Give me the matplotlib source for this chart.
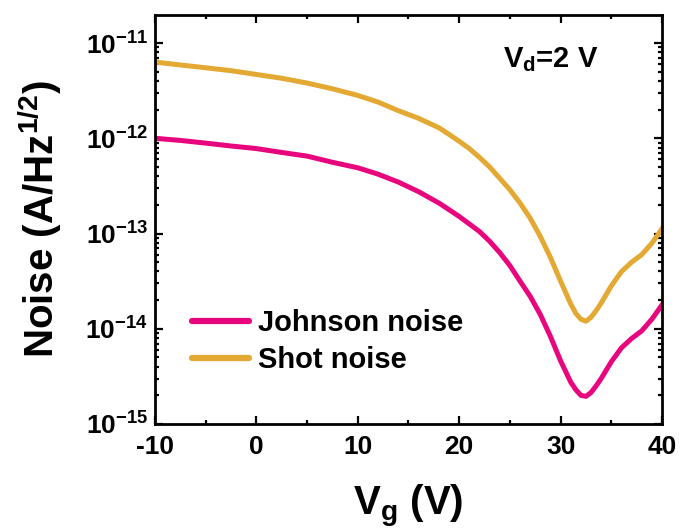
import numpy as np
import matplotlib
matplotlib.use('Agg')
import matplotlib.pyplot as plt
from matplotlib.ticker import FixedLocator, MultipleLocator, LogLocator, FuncFormatter, NullFormatter

# Data.
vg = [-10, -7.5, -5, -2.5, 0, 2.5, 5, 7.5, 10, 12, 14, 16, 18, 19, 20, 21, 22, 23, 24,
      25, 26, 27, 28, 29, 30, 31, 31.5, 32, 32.5, 33, 33.5, 34, 35, 36, 37, 38, 39, 40]
shot_noise = [6.31e-12, 5.89e-12, 5.50e-12, 5.13e-12, 4.68e-12, 4.27e-12, 3.80e-12,
              3.31e-12, 2.82e-12, 2.40e-12, 1.95e-12, 1.62e-12, 1.29e-12, 1.10e-12,
              9.3e-13, 7.8e-13, 6.3e-13, 5.0e-13, 3.8e-13, 2.88e-13, 2.09e-13, 1.45e-13,
              9.3e-14, 5.6e-14, 3.16e-14, 1.82e-14, 1.45e-14, 1.26e-14, 1.20e-14,
              1.32e-14, 1.55e-14, 1.86e-14, 2.82e-14, 3.98e-14, 5.0e-14, 6.0e-14,
              7.9e-14, 1.12e-13]
johnson_noise = [1.00e-12, 9.5e-13, 8.9e-13, 8.3e-13, 7.8e-13, 7.1e-13, 6.5e-13, 5.6e-13,
                 4.9e-13, 4.2e-13, 3.47e-13, 2.75e-13, 2.09e-13, 1.78e-13, 1.51e-13,
                 1.26e-13, 1.05e-13, 8.3e-14, 6.3e-14, 4.6e-14, 3.16e-14, 2.19e-14,
                 1.41e-14, 8.3e-15, 4.6e-15, 2.75e-15, 2.29e-15, 2.0e-15, 1.95e-15,
                 2.14e-15, 2.51e-15, 3.0e-15, 4.5e-15, 6.3e-15, 7.9e-15, 9.5e-15,
                 1.26e-14, 1.78e-14]
x_ticks = [-10, 0, 10, 20, 30, 40]
y_ticks = [1e-15, 1e-14, 1e-13, 1e-12, 1e-11]

# Bold Arial-like text everywhere, mathtext included.
plt.rcParams['font.family'] = ['Liberation Sans', 'DejaVu Sans']
plt.rcParams['font.weight'] = 'bold'
plt.rcParams['axes.labelweight'] = 'bold'
plt.rcParams['mathtext.fontset'] = 'custom'
plt.rcParams['mathtext.rm'] = 'Liberation Sans:bold'
plt.rcParams['mathtext.it'] = 'Liberation Sans:bold'
plt.rcParams['mathtext.bf'] = 'Liberation Sans:bold'
plt.rcParams['mathtext.default'] = 'regular'
plt.rcParams['axes.unicode_minus'] = False

fig = plt.figure(figsize=(6.81, 5.29), dpi=100)
ax = fig.add_axes([0.2276, 0.1985, 0.9721 - 0.2276, 0.9716 - 0.1985])

ax.plot(vg, johnson_noise, '-', color='#E8067F', linewidth=3.6, solid_joinstyle='round',
        label='Johnson noise')
ax.plot(vg, shot_noise, '-', color='#E3A932', linewidth=3.6, solid_joinstyle='round',
        label='Shot noise')

ax.set_yscale('log')
ax.set_xlim(-10, 40)
ax.set_ylim(1e-15, 1.97e-11)

# Ticks
ax.xaxis.set_major_locator(FixedLocator(x_ticks))
ax.xaxis.set_minor_locator(MultipleLocator(5))
ax.yaxis.set_major_locator(FixedLocator(y_ticks))
ax.yaxis.set_minor_locator(LogLocator(base=10, subs=np.arange(2, 10), numticks=10))
ax.yaxis.set_minor_formatter(NullFormatter())
ax.yaxis.set_major_formatter(FuncFormatter(lambda v, p: r'$10^{%d}$' % int(round(np.log10(v)))))
ax.tick_params(which='both', direction='in', top=True, right=True, width=1.6)
ax.tick_params(which='major', length=6, labelsize=19)
ax.tick_params(axis='x', which='major', pad=8)
ax.tick_params(axis='y', which='major', pad=5)
ax.tick_params(which='minor', length=3)
for s in ax.spines.values():
    s.set_linewidth(2.0)

ax.set_xlabel(r'V$_{g}$ (V)', fontsize=29, fontweight='bold', labelpad=17)
ax.set_ylabel(r'Noise (A/Hz$^{1/2}$)', fontsize=29, fontweight='bold', labelpad=15)

ax.text(0.875, 0.89, r'V$_{d}$=2 V', transform=ax.transAxes, fontsize=21,
        fontweight='bold', ha='right', va='center')

leg = ax.legend(loc='lower left', bbox_to_anchor=(0.05, 0.093), frameon=False, fontsize=21,
                handlelength=1.95, handletextpad=0.3, labelspacing=0.32, borderaxespad=0)
for line in leg.get_lines():
    line.set_linewidth(4.5)
    line.set_solid_capstyle('round')

fig.savefig('out.png', dpi=100)
